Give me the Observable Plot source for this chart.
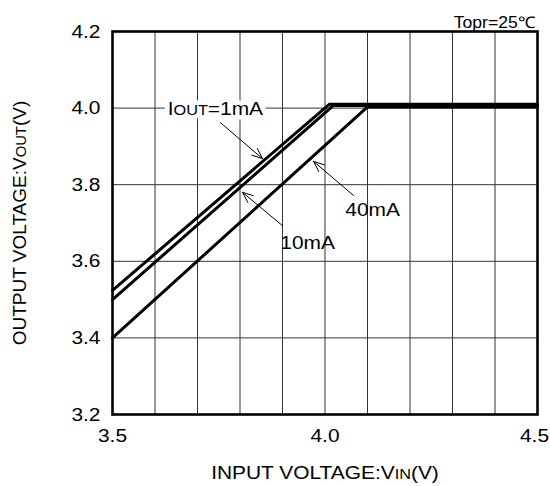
<!DOCTYPE html>
<html>
<head>
<meta charset="utf-8">
<script src="https://cdn.jsdelivr.net/npm/d3@7"></script>
<script src="https://cdn.jsdelivr.net/npm/@observablehq/plot@0.6"></script>
<style>
  html, body { margin: 0; padding: 0; background: #fff; }
  #chart { width: 550px; height: 486px; }
</style>
</head>
<body>
<div id="chart"></div>
<script>
// ---- data ----
const seriesNames = ["1mA", "10mA", "40mA"];
const vin1  = [3.50, 4.010, 4.50];
const vout1 = [3.524, 4.010, 4.010];
const vin10  = [3.50, 4.020, 4.50];
const vout10 = [3.500, 4.007, 4.007];
const vin40  = [3.50, 4.100, 4.50];
const vout40 = [3.400, 4.003, 4.003];

const xTicks = [3.5, 4.0, 4.5];
const yTicks = [3.2, 3.4, 3.6, 3.8, 4.0, 4.2];
const xGrid = [3.6, 3.7, 3.8, 3.9, 4.0, 4.1, 4.2, 4.3, 4.4];
const yGrid = [3.4, 3.6, 3.8, 4.0];

// annotation labels and arrows (data units)
const labelText = ["IOUT=1mA", "10mA", "40mA"];
const labelX = [3.742, 3.959, 4.112];
const labelY = [3.999, 3.649, 3.733];
const arrowX1 = [3.754, 3.900, 4.067];
const arrowY1 = [3.962, 3.693, 3.772];
const arrowX2 = [3.853, 3.806, 3.973];
const arrowY2 = [3.868, 3.780, 3.861];

const note = "Topr=25℃";
const xLabel = "INPUT VOLTAGE:VIN(V)";
const yLabel = "OUTPUT VOLTAGE:VOUT(V)";

// ---- build tables ----
const curves = [
  ...vin1.map((v, i) => ({s: seriesNames[0], vin: v, vout: vout1[i]})),
  ...vin10.map((v, i) => ({s: seriesNames[1], vin: v, vout: vout10[i]})),
  ...vin40.map((v, i) => ({s: seriesNames[2], vin: v, vout: vout40[i]}))
];
const labels = labelText.map((t, i) => ({t, x: labelX[i], y: labelY[i]}));
const arrows = arrowX1.map((x1, i) => ({x1, y1: arrowY1[i], x2: arrowX2[i], y2: arrowY2[i]}));

const font = "'Liberation Sans', Arial, Helvetica, sans-serif";
const fs = 19;      // font size
const SX = 1.1;     // horizontal stretch of the reference's lettering

const plot = Plot.plot({
  width: 550,
  height: 486,
  marginLeft: 112,
  marginRight: 13,
  marginTop: 31,
  marginBottom: 72,
  style: {fontFamily: font, fontSize: fs + "px", background: "#fff", color: "#000"},
  x: {domain: [3.5, 4.5]},
  y: {domain: [3.2, 4.2]},
  marks: [
    Plot.gridX(xGrid, {stroke: "#333", strokeOpacity: 1, strokeWidth: 1}),
    Plot.gridY(yGrid, {stroke: "#333", strokeOpacity: 1, strokeWidth: 1}),
    Plot.axisX(xTicks, {tickSize: 0, tickPadding: 14, tickFormat: d3.format(".1f"), fontSize: fs,
      label: xLabel, labelAnchor: "center", labelArrow: "none", labelOffset: 64}),
    Plot.axisY(yTicks, {tickSize: 0, tickPadding: 12, tickFormat: d3.format(".1f"), fontSize: fs,
      label: yLabel, labelAnchor: "center", labelArrow: "none", labelOffset: 100}),
    Plot.line(curves, {x: "vin", y: "vout", z: "s", stroke: "#000", strokeWidth: 3, strokeLinejoin: "miter"}),
    Plot.arrow(arrows, {x1: "x1", y1: "y1", x2: "x2", y2: "y2", stroke: "#000", strokeWidth: 1, headLength: 17, headAngle: 45}),
    Plot.text(labels.slice(0, 1), {x: "x", y: "y", text: "t", fill: "#fff", stroke: "#fff", strokeWidth: 9, fontSize: fs}),
    Plot.text(labels, {x: "x", y: "y", text: "t", fill: "#000", fontSize: fs}),
    Plot.frame({stroke: "#000", strokeWidth: 2.6}),
    Plot.text([note], {frameAnchor: "top-right", lineAnchor: "bottom", dy: -4, dx: -2, fontSize: 16, fill: "#000"})
  ]
});

// horizontal stretch of non-rotated lettering, and nudge of the last x tick label
d3.select(plot).selectAll("text").each(function () {
  const txt = this.textContent;
  if (txt === yLabel) return;
  const t = this.getAttribute("transform") || "";
  if (/rotate/.test(t)) return;
  const x = +this.getAttribute("x") || 0, y = +this.getAttribute("y") || 0;
  const pre = txt === "4.5" ? "translate(-3,0) " : "";
  this.setAttribute("transform", `${pre}${t} translate(${x},${y}) scale(${SX},1) translate(${-x},${-y})`);
});

// subscripts
const subs = {
  "IOUT=1mA": [["I", 0], ["OUT", 1], ["=1mA", 0]],
  [xLabel]: [["INPUT VOLTAGE:V", 0], ["IN", 1], ["(V)", 0]],
  [yLabel]: [["OUTPUT VOLTAGE:V", 0], ["OUT", 1], ["(V)", 0]]
};
d3.select(plot).selectAll("text").each(function () {
  const parts = subs[this.textContent];
  if (!parts) return;
  const el = d3.select(this);
  el.text(null);
  for (const [s, isSub] of parts) {
    const ts = el.append("tspan").text(s);
    if (isSub) ts.attr("font-size", "0.78em");
  }
});

document.getElementById("chart").appendChild(plot);
</script>
</body>
</html>
